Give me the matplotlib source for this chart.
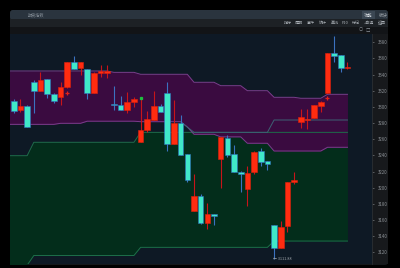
import matplotlib
matplotlib.use('Agg')
import matplotlib.pyplot as plt
from matplotlib.patches import Rectangle, FancyBboxPatch

plt.rcParams['font.family'] = ['Noto Sans CJK SC', 'DejaVu Sans']

# K线: 开 高 低 收
opens = [3307.3, 3296.2, 3300.7, 3331.2, 3319.7, 3334.2, 3316.0, 3312.6, 3325.0, 3356.0,
         3347.8, 3346.6, 3316.8, 3342.6, 3342.6, 3303.6, 3302.4, 3296.2, 3306.4, 3256.9,
         3271.4, 3283.8, 3301.1, 3316.8, 3254.3, 3279.7, 3241.3, 3171.5, 3190.0, 3156.6,
         3167.4, 3235.5, 3261.1, 3241.7, 3219.8, 3197.9, 3219.0, 3245.4, 3233.0, 3153.7,
         3124.9, 3152.8, 3207.0, 3281.7, 3283.8, 3286.6, 3301.1, 3317.6, 3367.1, 3364.3,
         3348.2]
highs = [3309.8, 3309.8, 3302.4, 3333.3, 3343.6, 3334.6, 3317.2, 3330.5, 3355.6, 3363.0,
         3355.6, 3346.9, 3343.2, 3351.9, 3351.9, 3325.9, 3313.5, 3318.8, 3312.6, 3311.4,
         3294.9, 3319.7, 3303.6, 3331.2, 3308.5, 3290.0, 3241.7, 3216.9, 3192.1, 3180.6,
         3167.4, 3262.7, 3265.2, 3252.8, 3220.6, 3226.8, 3245.4, 3248.7, 3233.0, 3153.7,
         3158.7, 3207.0, 3219.8, 3297.4, 3297.4, 3302.4, 3307.3, 3366.7, 3387.8, 3364.3,
         3356.0]
lows = [3292.4, 3294.1, 3275.1, 3292.1, 3319.7, 3311.4, 3305.2, 3302.4, 3323.0, 3346.9,
        3339.5, 3309.8, 3316.8, 3337.4, 3335.8, 3296.2, 3296.2, 3292.8, 3300.2, 3256.9,
        3269.3, 3283.8, 3294.1, 3245.8, 3254.1, 3240.4, 3206.6, 3171.5, 3155.0, 3148.8,
        3153.7, 3199.9, 3237.6, 3219.8, 3195.0, 3177.3, 3216.9, 3227.2, 3221.9, 3111.88,
        3124.9, 3144.7, 3204.1, 3274.2, 3272.6, 3286.3, 3294.1, 3317.2, 3356.0, 3342.8,
        3346.6]
closes = [3294.9, 3301.1, 3275.5, 3319.7, 3333.3, 3315.6, 3307.7, 3324.6, 3355.2, 3346.9,
          3355.2, 3317.6, 3341.6, 3343.8, 3344.5, 3302.4, 3296.2, 3306.4, 3309.8, 3271.4,
          3284.6, 3301.1, 3294.1, 3254.1, 3279.7, 3240.4, 3209.5, 3190.0, 3156.6, 3167.4,
          3164.9, 3262.4, 3240.4, 3219.8, 3216.9, 3217.8, 3244.5, 3232.1, 3228.9, 3124.9,
          3150.9, 3206.6, 3209.5, 3287.1, 3285.0, 3302.4, 3306.4, 3366.4, 3363.4, 3347.8,
          3349.4]

# 通道线 (从第 -1 根开始)
band_x = list(range(-1, 51))
upper_top = [3344.5, 3344.5, 3344.5, 3344.5, 3344.5, 3344.5, 3344.5, 3344.5, 3344.5, 3344.5,
             3344.5, 3344.5, 3344.5, 3344.5, 3344.5, 3344.5, 3342.8, 3342.8, 3342.8, 3342.8,
             3340.4, 3340.4, 3340.4, 3340.4, 3340.4, 3340.4, 3340.4, 3340.4, 3330.5, 3330.5,
             3330.5, 3330.5, 3326.3, 3326.3, 3326.3, 3326.3, 3320.1, 3320.1, 3320.1, 3320.1,
             3311.9, 3311.9, 3311.9, 3311.9, 3310.7, 3310.7, 3310.7, 3310.7, 3315.6, 3315.6,
             3315.6, 3315.6]
upper_bot = [3278.4, 3278.4, 3278.4, 3278.4, 3278.4, 3278.4, 3278.4, 3278.4, 3279.7, 3279.7,
             3279.7, 3279.7, 3282.3, 3282.3, 3282.3, 3282.3, 3282.3, 3282.3, 3282.3, 3282.3,
             3281.7, 3281.7, 3281.7, 3281.7, 3281.7, 3281.7, 3281.7, 3275.1, 3266.1, 3266.1,
             3266.1, 3266.1, 3262.9, 3262.9, 3262.9, 3262.9, 3255.0, 3255.0, 3255.0, 3255.0,
             3245.4, 3245.4, 3245.4, 3245.4, 3245.4, 3245.4, 3245.4, 3245.4, 3250.0, 3250.0,
             3250.0, 3250.0]
mid_x = list(range(25, 51))
mid_line = [3281.7, 3275.1, 3268.5, 3268.5, 3268.5, 3268.5, 3268.5, 3268.5, 3268.5, 3268.5,
            3268.5, 3268.5, 3268.5, 3268.5, 3283.8, 3283.8, 3283.8, 3283.8, 3283.8, 3283.8,
            3283.8, 3283.8, 3283.8, 3283.8, 3283.8, 3283.8]
lower_top = [3239.6, 3239.6, 3239.6, 3239.6, 3256.2, 3256.2, 3256.2, 3256.2, 3256.2, 3256.2,
             3256.2, 3256.2, 3256.2, 3256.2, 3256.2, 3256.2, 3256.2, 3256.2, 3256.2, 3256.2,
             3268.5, 3268.5, 3268.5, 3268.5, 3268.5, 3268.5, 3268.5, 3268.5, 3268.5, 3268.5,
             3268.5, 3268.5, 3268.5, 3268.5, 3268.5, 3268.5, 3268.5, 3268.5, 3268.5, 3268.5,
             3268.5, 3268.5, 3268.5, 3268.5, 3268.5, 3268.5, 3268.5, 3268.5, 3268.5, 3268.5,
             3268.5, 3268.5]
lower_bot = [3104.0, 3104.0, 3104.0, 3104.0, 3116.0, 3116.0, 3116.0, 3116.0, 3116.0, 3116.0,
             3116.0, 3116.0, 3116.0, 3116.0, 3116.0, 3116.0, 3116.0, 3116.0, 3116.0, 3116.0,
             3126.1, 3126.1, 3126.1, 3126.1, 3126.1, 3126.1, 3126.1, 3126.1, 3126.1, 3126.1,
             3126.1, 3126.1, 3126.1, 3126.1, 3126.1, 3126.1, 3126.1, 3126.1, 3126.1, 3126.1,
             3133.9, 3133.9, 3133.9, 3133.9, 3133.9, 3133.9, 3133.9, 3133.9, 3133.9, 3133.9,
             3133.9, 3133.9]

signal_x = [8, 47]
signal_y = [3316.8, 3311.4]
yticks = [3120, 3140, 3160, 3180, 3200, 3220, 3240, 3260, 3280, 3300, 3320, 3340, 3360, 3380]
low_label = '← 3111.88'
title = '期货指数'
menu = ['指标', '周期', '事件', '统计', '画线', 'F10', '标记', '+自选', '返回']
menu_x = [287.5, 299, 311, 322.5, 335, 345.5, 356, 369, 382]

fig = plt.figure(figsize=(4, 2.68), dpi=100, facecolor='black')

# 窗口外框
bg = fig.add_axes([0, 0, 1, 1])
bg.set_xlim(0, 400)
bg.set_ylim(268, 0)
bg.axis('off')
bg.add_patch(FancyBboxPatch((10, 10), 378, 255, boxstyle='round,pad=0,rounding_size=3',
                            fc='#15181b', ec='none'))
bg.add_patch(FancyBboxPatch((10, 10), 378, 10, boxstyle='round,pad=0,rounding_size=3',
                            fc='#2a343e', ec='none'))
bg.add_patch(Rectangle((10, 19), 378, 7.5, fc='#1d2125', ec='none'))
bg.add_patch(Rectangle((10, 26.5), 378, 7.5, fc='#121417', ec='none'))
bg.add_patch(Rectangle((371.5, 34), 16.5, 230, fc='#17191c', ec='none'))
bg.add_patch(Rectangle((362, 11), 13, 8, fc='#3b4753', ec='none'))
bg.text(28, 14.8, title, fontsize=3, color='#7f8891', va='center')
bg.text(368.5, 15, '功能', fontsize=3.2, color='#d8dde2', va='center', ha='center')
bg.text(378.5, 15, '板块', fontsize=3.2, color='#9aa1a8', va='center', ha='left')
bg.add_patch(Rectangle((388.3, 0), 12, 268, fc='black', ec='none', zorder=5))
for lab, mx in zip(menu, menu_x):
    bg.text(mx, 22.7, lab, fontsize=2.9, color='#aab0b6', va='center', ha='center')
bg.text(361, 30.2, '○', fontsize=3, color='#7a8088', va='center', ha='center')
bg.text(367.5, 30.2, '□', fontsize=3.2, color='#8a9098', va='center', ha='center')

ax = fig.add_axes([10 / 400, (268 - 263.5) / 268, 361.5 / 400, 229.5 / 268])
ax.set_facecolor('#0e1925')
ax.set_xlim(-0.57, 53.6)
ax.set_ylim(3106.1, 3390.3)

# 下通道 (绿)
ax.fill_between(band_x, lower_bot, lower_top, color='#032d1b', lw=0)
ax.plot(band_x, lower_top, color='#1d6e4a', lw=0.7)
ax.plot(band_x, lower_bot, color='#1d6e4a', lw=0.7)
# 上通道 (紫)
ax.fill_between(band_x, upper_bot, upper_top, color='#3a0b40', lw=0)
ax.plot(band_x, upper_top, color='#7a3d8c', lw=0.7)
ax.plot(band_x, upper_bot, color='#7a3d8c', lw=0.7)
ax.plot(mid_x, mid_line, color='#3d6274', lw=0.7)

x = list(range(len(opens)))
for i in x:
    o, h, l, c = opens[i], highs[i], lows[i], closes[i]
    if c >= o:
        fc, ec, wc = '#ff2c10', '#e0200c', '#c8141a'
    else:
        fc, ec, wc = '#40e8c8', '#2f6fc0', '#3b72c0'
    ax.vlines(i, l, h, color=wc, lw=0.8, zorder=3)
    body = max(abs(c - o), 1.6)
    ax.bar(i, body, bottom=min(o, c), width=0.84, color=fc, edgecolor=ec,
           linewidth=0.4, zorder=4)

ax.plot(signal_x, signal_y, '+', color='#e0201a', ms=3, mew=0.9, zorder=5)
ax.plot([19], [highs[19]], 's', color='#1fbf3f', ms=1.4, zorder=5)
ax.text(38.85, lows[39], low_label, fontsize=2.8, color='#a0a6ac', va='center', ha='left')

ax.set_xticks([])
ax.yaxis.tick_right()
ax.set_yticks(yticks)
ax.set_yticklabels([str(t) for t in yticks])
ax.tick_params(axis='y', labelsize=3.2, colors='#8c9196', length=1.5, width=0.4, pad=3)
for s in ['top', 'left', 'bottom']:
    ax.spines[s].set_visible(False)
ax.spines['right'].set_color('#2b2f33')
ax.spines['right'].set_linewidth(0.6)

fig.savefig('out.png', dpi=100, facecolor='black')
